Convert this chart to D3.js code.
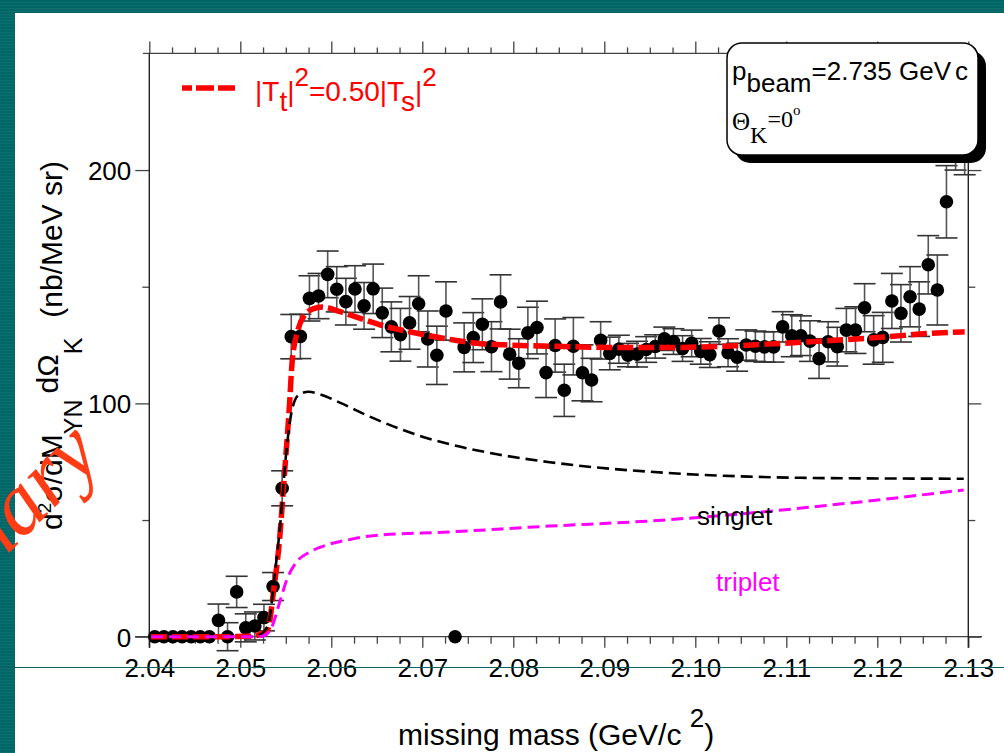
<!DOCTYPE html>
<html>
<head>
<meta charset="utf-8">
<script src="https://cdn.jsdelivr.net/npm/d3@7"></script>
<style>
  html, body { margin: 0; padding: 0; background: #ffffff; }
  svg { display: block; }
</style>
</head>
<body>
<svg id="chart" width="1004" height="753"></svg>
<script>
// ---- data -------------------------------------------------------------
// missing-mass bins (GeV/c^2)
const binMass = [
  2.0406, 2.0416, 2.0426, 2.0436, 2.0446, 2.0456, 2.0466, 2.0476, 2.0486, 2.0496,
  2.0506, 2.0516, 2.0526, 2.0536, 2.0546, 2.0556, 2.0566, 2.0576, 2.0586, 2.0596,
  2.0606, 2.0616, 2.0626, 2.0636, 2.0646, 2.0656, 2.0666, 2.0676, 2.0686, 2.0696,
  2.0706, 2.0716, 2.0726, 2.0736, 2.0746, 2.0756, 2.0766, 2.0776, 2.0786, 2.0796,
  2.0806, 2.0816, 2.0826, 2.0836, 2.0846, 2.0856, 2.0866, 2.0876, 2.0886, 2.0896,
  2.0906, 2.0916, 2.0926, 2.0936, 2.0946, 2.0956, 2.0966, 2.0976, 2.0986, 2.0996,
  2.1006, 2.1016, 2.1026, 2.1036, 2.1046, 2.1056, 2.1066, 2.1076, 2.1086, 2.1096,
  2.1106, 2.1116, 2.1126, 2.1136, 2.1146, 2.1156, 2.1166, 2.1176, 2.1186, 2.1196,
  2.1206, 2.1216, 2.1226, 2.1236, 2.1246, 2.1256, 2.1266, 2.1276, 2.1286, 2.1296
];
// measured cross section (nb/MeV sr)
const binValue = [
  0, 0, 0, 0, 0, 0, 0, 7.0, 0, 19.2,
  3.8, 4.6, 8.2, 21.5, 63.6, 128.6, 128.7, 145.0, 146.0, 155.3,
  148.9, 143.6, 149.0, 141.8, 149.1, 138.8, 132.8, 129.4, 134.5, 142.7,
  127.6, 120.6, 139.6, 0, 124.0, 128.2, 133.9, 124.3, 143.5, 121.1,
  117.2, 130.2, 132.5, 113.2, 124.8, 105.6, 124.5, 113.1, 110.0, 127.0,
  121.4, 123.2, 120.7, 121.1, 123.1, 124.4, 127.7, 126.5, 123.5, 125.7,
  122.3, 120.9, 131.0, 121.7, 119.8, 125.0, 124.5, 124.2, 124.2, 132.8,
  129.0, 129.0, 126.7, 119.2, 126.4, 124.3, 131.4, 131.4, 141.0, 127.2,
  128.3, 143.9, 138.6, 145.7, 140.4, 159.4, 148.6, 186.4, 222.0, 225.0
];
// statistical errors
const binError = [
  0, 0, 0, 0, 0, 0, 0, 7.0, 6.0, 6.7,
  6.0, 6.0, 5.7, 6.0, 7.5, 9.5, 9.5, 9.7, 9.7, 10.0,
  9.7, 10.0, 10.0, 10.0, 10.6, 10.6, 10.7, 11.3, 11.3, 12.0,
  12.0, 12.5, 12.5, 0, 10.5, 10.7, 10.9, 10.7, 11.6, 10.7,
  10.5, 11.0, 11.3, 10.7, 11.4, 11.2, 12.3, 12.0, 9.3, 8.0,
  7.0, 6.0, 5.0, 5.5, 5.5, 5.0, 5.0, 5.5, 5.5, 5.7,
  5.5, 5.5, 5.7, 6.0, 6.0, 6.5, 6.5, 6.5, 6.5, 6.5,
  9.0, 8.5, 8.7, 8.5, 8.6, 8.3, 9.3, 10.0, 10.3, 10.4,
  10.7, 11.8, 12.3, 12.9, 11.7, 12.5, 15.0, 15.5, 22.0, 27.0
];

// calculated spectra: |Tt|^2 = 0.50 |Ts|^2 total, singlet and triplet parts
const totalMass = [2.0402, 2.048, 2.051, 2.052, 2.053, 2.0537, 2.0543, 2.0548, 2.0554, 2.0557,
  2.0563, 2.057, 2.058, 2.059, 2.061, 2.0632, 2.0654, 2.0686, 2.0723, 2.076,
  2.0796, 2.0833, 2.0884, 2.0928, 2.0983, 2.1038, 2.1093, 2.1148, 2.1203, 2.1258, 2.1296];
const totalValue = [0, 0, 0.2, 0.8, 3, 21, 41, 67, 99, 118,
  131, 137.5, 140.5, 141.3, 139.3, 136.4, 133.6, 130.7, 127.9, 125.8,
  125.0, 124.6, 124.1, 123.9, 124.0, 124.6, 125.7, 126.9, 128.3, 130.0, 130.7];

const singletMass = [2.0402, 2.051, 2.052, 2.0526, 2.0531, 2.0538, 2.0544, 2.055, 2.0556, 2.0564,
  2.0575, 2.0588, 2.061, 2.0643, 2.0676, 2.0701, 2.073, 2.0785, 2.084, 2.0895,
  2.095, 2.1005, 2.106, 2.1115, 2.122, 2.1295];
const singletValue = [0, 0, 0.6, 2.2, 5.7, 27, 48.6, 77, 95.7, 103.6,
  105, 103.8, 100.2, 94.2, 89.0, 85.6, 82.5, 78.0, 74.8, 72.4,
  70.7, 69.4, 68.6, 68.1, 67.8, 67.7];

const tripletMass = [2.0402, 2.052, 2.0528, 2.0534, 2.0544, 2.0551, 2.0562, 2.0577, 2.0595, 2.0621,
  2.0643, 2.073, 2.084, 2.095, 2.106, 2.117, 2.1295];
const tripletValue = [0, 0, 0.8, 3.6, 15.7, 24.3, 32.1, 36.4, 39.3, 41.7,
  43.2, 44.9, 47.4, 49.6, 53.0, 57.3, 62.9];

// axis ticks
const massTicks = [2.04, 2.05, 2.06, 2.07, 2.08, 2.09, 2.10, 2.11, 2.12, 2.13];
const massMinorTicks = [2.0425, 2.045, 2.0475, 2.0525, 2.055, 2.0575, 2.0625, 2.065, 2.0675,
  2.0725, 2.075, 2.0775, 2.0825, 2.085, 2.0875, 2.0925, 2.095, 2.0975, 2.1025, 2.105, 2.1075,
  2.1125, 2.115, 2.1175, 2.1225, 2.125, 2.1275];
const sigmaTicks = [0, 100, 200];
const sigmaMinorTicks = [50, 150];

// ---- drawing ----------------------------------------------------------
const svg = d3.select("#chart");
const W = 1004, H = 753;
const SANS = "'Liberation Sans', Arial, Helvetica, sans-serif";
const SERIF = "'Liberation Serif', 'Times New Roman', serif";

const x = d3.scaleLinear().domain([2.04, 2.13]).range([149.3, 968.3]);
const y = d3.scaleLinear().domain([0, 250]).range([636.7, 53.4]);

// slide frame: striped teal band along top and left
const defs = svg.append("defs");
const pat = defs.append("pattern").attr("id", "tealStripe")
  .attr("patternUnits", "userSpaceOnUse").attr("width", 8).attr("height", 3);
pat.append("rect").attr("width", 8).attr("height", 3).attr("fill", "#006766");
pat.append("rect").attr("y", 2).attr("width", 8).attr("height", 1).attr("fill", "#0c6f6e");

svg.append("rect").attr("width", W).attr("height", H).attr("fill", "url(#tealStripe)");
svg.append("rect").attr("x", 15).attr("y", 13).attr("width", W - 15).attr("height", H - 13)
  .attr("fill", "#ffffff");

const axisColor = "#444";

// bottom axis
const gB = svg.append("g").attr("transform", `translate(0,${y(0)})`);
gB.call(d3.axisBottom(x).tickValues(massTicks).tickSize(11).tickFormat(d3.format(".2f")));
gB.append("g").call(d3.axisBottom(x).tickValues(massMinorTicks).tickSize(7).tickFormat(""));
gB.selectAll(".domain").remove();
gB.selectAll("line").attr("stroke", axisColor).attr("stroke-width", 1.3);
gB.selectAll("text").attr("font-family", SANS).attr("font-size", 26).attr("fill", "#000")
  .attr("dy", "0").attr("y", 40);
svg.append("line").attr("x1", 135).attr("x2", 982).attr("y1", y(0)).attr("y2", y(0))
  .attr("stroke", axisColor).attr("stroke-width", 1.3);

// top axis
const gT = svg.append("g").attr("transform", `translate(0,${y(250)})`);
gT.call(d3.axisTop(x).tickValues(massTicks).tickSize(12).tickFormat(""));
gT.append("g").call(d3.axisTop(x).tickValues(massMinorTicks).tickSize(6).tickFormat(""));
gT.selectAll(".domain").remove();
gT.selectAll("line").attr("stroke", axisColor).attr("stroke-width", 1.3);
svg.append("line").attr("x1", 143).attr("x2", 975).attr("y1", y(250)).attr("y2", y(250))
  .attr("stroke", axisColor).attr("stroke-width", 1.3);

// left axis
const gL = svg.append("g").attr("transform", `translate(${x(2.04)},0)`);
gL.call(d3.axisLeft(y).tickValues(sigmaTicks).tickSize(14).tickFormat(d3.format("d")));
gL.append("g").call(d3.axisLeft(y).tickValues(sigmaMinorTicks).tickSize(7).tickFormat(""));
gL.selectAll(".domain").remove();
gL.selectAll("line").attr("stroke", axisColor).attr("stroke-width", 1.3);
gL.selectAll("text").attr("font-family", SANS).attr("font-size", 26).attr("fill", "#000")
  .attr("x", -18).attr("dy", "0.36em");

// right axis
const gR = svg.append("g").attr("transform", `translate(${x(2.13)},0)`);
gR.call(d3.axisRight(y).tickValues(sigmaTicks).tickSize(13).tickFormat(""));
gR.append("g").call(d3.axisRight(y).tickValues(sigmaMinorTicks).tickSize(7).tickFormat(""));
gR.selectAll(".domain").remove();
gR.selectAll("line").attr("stroke", axisColor).attr("stroke-width", 1.3);

// frame verticals
svg.append("line").attr("x1", x(2.04)).attr("x2", x(2.04)).attr("y1", y(250)).attr("y2", y(0) + 11)
  .attr("stroke", "#222").attr("stroke-width", 1.4);
svg.append("line").attr("x1", x(2.13)).attr("x2", x(2.13)).attr("y1", y(250)).attr("y2", y(0) + 11)
  .attr("stroke", "#222").attr("stroke-width", 1.4);

// ---- measured points --------------------------------------------------
const points = binMass.map((m, i) => ({ m, v: binValue[i], e: binError[i] }));
const gErr = svg.append("g").attr("stroke", "#333").attr("stroke-width", 1.6);
points.filter(d => d.e > 0).forEach(d => {
  const cx = x(d.m);
  gErr.append("line").attr("x1", cx).attr("x2", cx)
    .attr("y1", y(d.v - d.e)).attr("y2", y(d.v + d.e)).attr("stroke", "#555");
  [d.v - d.e, d.v + d.e].forEach(v => {
    gErr.append("line").attr("x1", cx - 11).attr("x2", cx + 11)
      .attr("y1", y(v)).attr("y2", y(v));
  });
});
svg.append("g").selectAll("circle").data(points).join("circle")
  .attr("cx", d => x(d.m)).attr("cy", d => y(d.v)).attr("r", 6.8).attr("fill", "#000");

// ---- calculated curves ------------------------------------------------
const line = d3.line().x(d => x(d[0])).y(d => y(d[1])).curve(d3.curveMonotoneX);
const zip = (a, b) => a.map((m, i) => [m, b[i]]);

svg.append("path").datum(zip(totalMass, totalValue)).attr("d", line)
  .attr("fill", "none").attr("stroke", "#ff0000").attr("stroke-width", 5.5)
  .attr("stroke-dasharray", "16,5");
svg.append("path").datum(zip(singletMass, singletValue)).attr("d", line)
  .attr("fill", "none").attr("stroke", "#000").attr("stroke-width", 2.6)
  .attr("stroke-dasharray", "12,6");
svg.append("path").datum(zip(tripletMass, tripletValue)).attr("d", line)
  .attr("fill", "none").attr("stroke", "#ff00ff").attr("stroke-width", 3)
  .attr("stroke-dasharray", "12,6");

// curve labels
svg.append("text").attr("x", 697).attr("y", 525).attr("font-family", SANS)
  .attr("font-size", 26).attr("fill", "#000").text("singlet");
svg.append("text").attr("x", 716).attr("y", 591).attr("font-family", SANS)
  .attr("font-size", 26).attr("fill", "#ff00ff").text("triplet");

// ---- legend -----------------------------------------------------------
svg.append("line").attr("x1", 182).attr("x2", 235).attr("y1", 88).attr("y2", 88)
  .attr("stroke", "#ff0000").attr("stroke-width", 5.5).attr("stroke-dasharray", "10,4,18,4,18,4");
const leg = svg.append("text").attr("x", 255).attr("y", 101)
  .attr("font-family", SANS).attr("font-size", 28).attr("fill", "#ff0000");
leg.append("tspan").text("|T");
leg.append("tspan").attr("dy", 10).text("t");
leg.append("tspan").attr("dy", -10).text("|");
leg.append("tspan").attr("dy", -15).attr("font-size", 26).text("2");
leg.append("tspan").attr("dy", 15).text("=0.50|T");
leg.append("tspan").attr("dy", 10).text("s");
leg.append("tspan").attr("dy", -10).text("|");
leg.append("tspan").attr("dy", -15).attr("font-size", 26).text("2");

// ---- beam info box ----------------------------------------------------
svg.append("rect").attr("x", 735).attr("y", 51).attr("width", 251).attr("height", 112)
  .attr("rx", 15).attr("fill", "#000");
svg.append("rect").attr("x", 727).attr("y", 43).attr("width", 251).attr("height", 112)
  .attr("rx", 15).attr("fill", "#fff").attr("stroke", "#000").attr("stroke-width", 1.5);
const t1 = svg.append("text").attr("x", 732).attr("y", 80)
  .attr("font-family", SANS).attr("font-size", 26).attr("fill", "#000");
t1.append("tspan").text("p");
t1.append("tspan").attr("dy", 12).text("beam");
t1.append("tspan").attr("dy", -12).text("=2.735 GeV");
t1.append("tspan").attr("dx", 4).text("c");
const t2 = svg.append("text").attr("x", 732).attr("y", 130)
  .attr("font-family", SERIF).attr("font-size", 25).attr("fill", "#000");
t2.append("tspan").text("\u0398");
t2.append("tspan").attr("dy", 13).attr("font-size", 24).text("K");
t2.append("tspan").attr("dy", -16).attr("font-size", 24).text("=0");
t2.append("tspan").attr("dy", -12).attr("font-size", 15).text("o");

// ---- axis titles ------------------------------------------------------
const xt = svg.append("text").attr("x", 398).attr("y", 745)
  .attr("font-family", SANS).attr("font-size", 30).attr("fill", "#000");
xt.append("tspan").text("missing mass (GeV/c ");
xt.append("tspan").attr("dy", -18).attr("font-size", 26).text("2");
xt.append("tspan").attr("dy", 18).text(")");

const yt = svg.append("text").attr("transform", "translate(62,530) rotate(-90)")
  .attr("font-family", SANS).attr("font-size", 30).attr("fill", "#000");
yt.append("tspan").text("d");
yt.append("tspan").attr("dy", -11).attr("font-size", 19).text("2");
yt.append("tspan").attr("dy", 11).text("\u03c3/dM");
yt.append("tspan").attr("dy", 20).attr("font-size", 25).text("YN");
yt.append("tspan").attr("dy", -24).attr("dx", 6).text("d\u03a9");
yt.append("tspan").attr("dy", 24).attr("font-size", 25).text("K");
yt.append("tspan").attr("dy", -20).attr("dx", 20).text("(nb/MeV sr)");

// thin rule across the slide
svg.append("line").attr("x1", 0).attr("x2", W).attr("y1", 667.5).attr("y2", 667.5)
  .attr("stroke", "#0e5f5f").attr("stroke-width", 1);

// watermark
svg.append("text").attr("transform", "translate(104,458) rotate(-45)")
  .attr("text-anchor", "end").attr("font-family", SERIF).attr("font-style", "italic")
  .attr("font-size", 88).attr("fill", "#ff3c14").text("Preliminary");
</script>
</body>
</html>
